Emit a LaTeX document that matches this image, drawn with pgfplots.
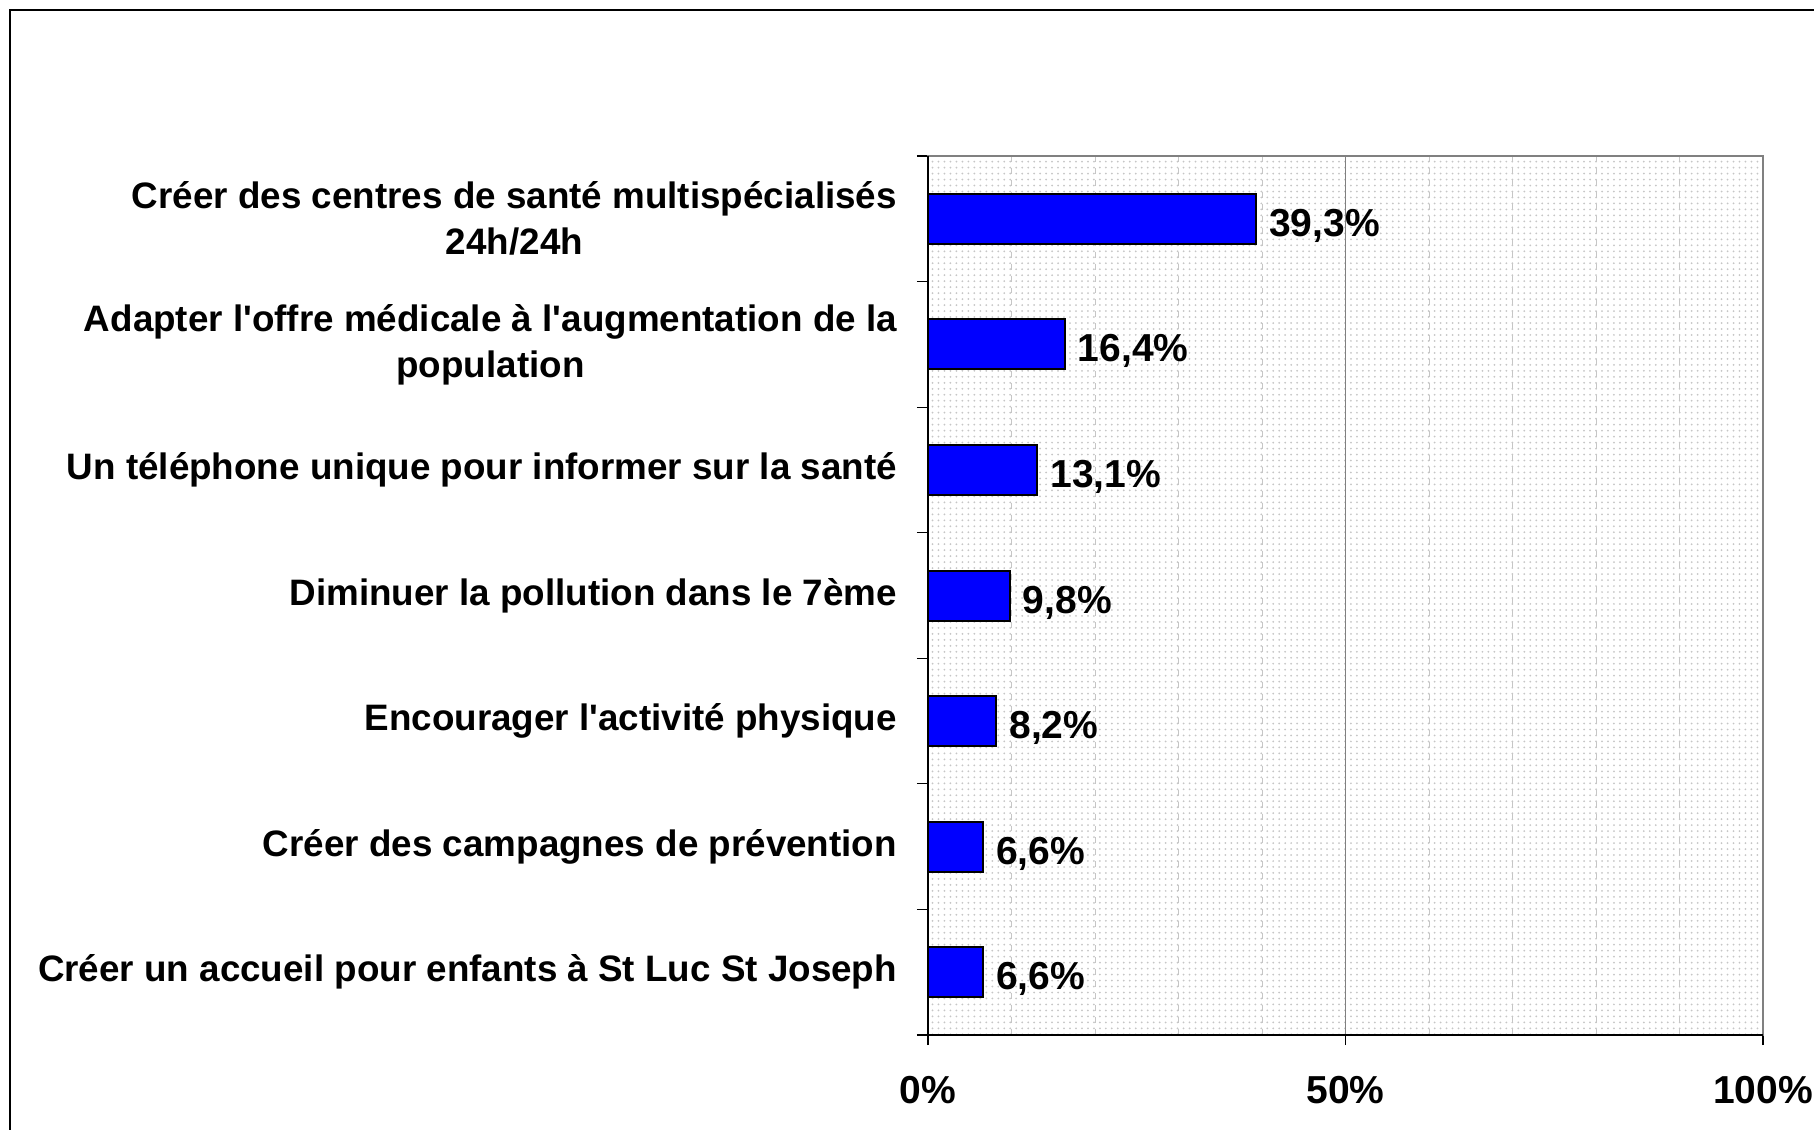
\documentclass[border=0pt]{standalone}
\usepackage{fontspec}
\setmainfont{Liberation Sans}
\usepackage{pgfplots}
\usetikzlibrary{patterns}
\pgfplotsset{compat=1.18}
\newcommand{\ap}{\textquotesingle}
\begin{document}
\begin{tikzpicture}
\useasboundingbox (0,0) rectangle (907bp,565bp);
\draw[line width=1bp] (5bp,0) -- (5bp,560bp) -- (907bp,560bp);
\begin{axis}[
  at={(464bp,47.5bp)}, anchor=south west,
  scale only axis, width=417.5bp, height=439.5bp,
  clip=false,
  xbar, bar width=25bp,
  xmin=0, xmax=100, ymin=-0.5, ymax=6.5, y dir=reverse,
  xtick={0,50,100}, xticklabels={0\%,50\%,100\%},
  minor xtick={10,20,30,40,60,70,80,90},
  ytick={0,1,2,3,4,5,6},
  yticklabels={
    {Créer des centres de santé multispécialisés\\24h/24h},
    {Adapter l\ap offre médicale à l\ap augmentation de la\\population},
    {Un téléphone unique pour informer sur la santé},
    {Diminuer la pollution dans le 7ème},
    {Encourager l\ap activité physique},
    {Créer des campagnes de prévention},
    {Créer un accueil pour enfants à St Luc St Joseph}},
  minor ytick={-0.5,0.5,1.5,2.5,3.5,4.5,5.5,6.5},
  tick align=outside, xtick pos=left, ytick pos=left,
  tick style={black, line width=0.6bp},
  major tick length=5bp, minor tick length=5.5bp,
  major y tick style={draw=none},
  minor x tick style={draw=none},
  xmajorgrids, xminorgrids,
  major grid style={gray, line width=0.6bp},
  minor grid style={gray!45, dashed, line width=0.5bp},
  axis background/.style={fill=white, postaction={pattern=dots, pattern color=gray!45}},
  axis line style={gray, line width=1bp},
  xticklabel style={font=\bfseries\fontsize{19.5bp}{23bp}\selectfont, text=black, yshift=-12bp},
  yticklabel style={font=\bfseries\fontsize{18.4bp}{23bp}\selectfont, align=center, text=black, xshift=-7bp},
]
\addplot[fill=blue, draw=black, line width=1bp,
  point meta=explicit symbolic, nodes near coords,
  nodes near coords style={anchor=west, font=\bfseries\fontsize{19.5bp}{23bp}\selectfont, inner sep=2bp, text=black, xshift=4bp, yshift=-3.5bp}]
  coordinates {
    (39.3,0) [39,3\%]
    (16.4,1) [16,4\%]
    (13.1,2) [13,1\%]
    (9.8,3) [9,8\%]
    (8.2,4) [8,2\%]
    (6.6,5) [6,6\%]
    (6.6,6) [6,6\%]
  };
\draw[black, line width=1bp] (axis cs:0,-0.5) -- (axis cs:0,6.5) -- (axis cs:100,6.5);
\end{axis}
\end{tikzpicture}
\end{document}
